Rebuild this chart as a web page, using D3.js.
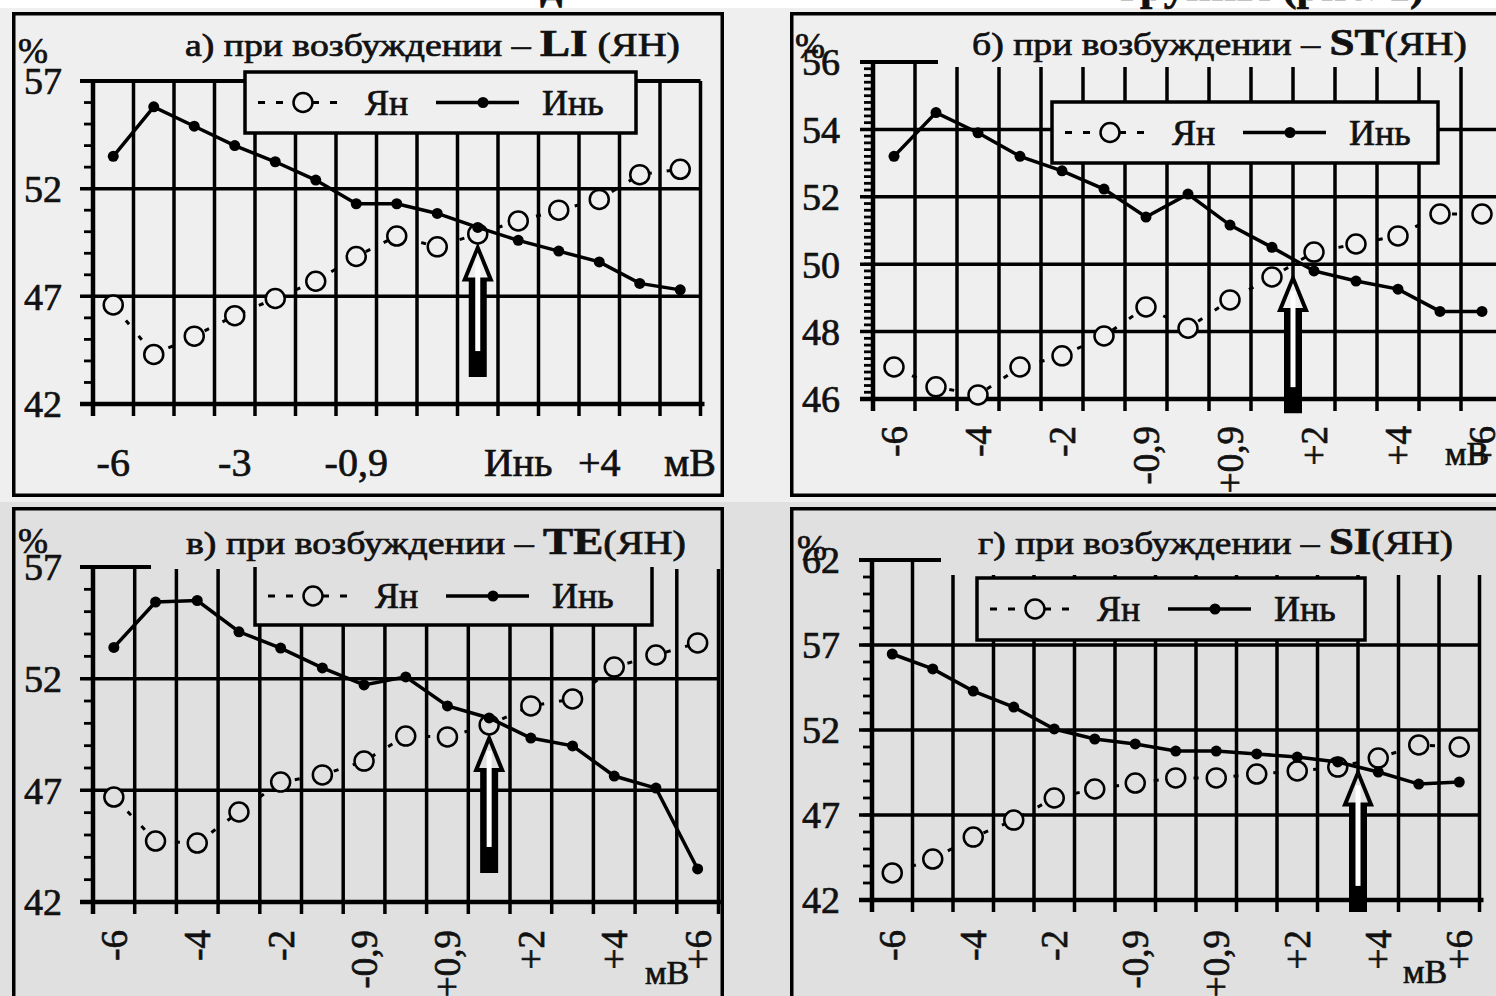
<!DOCTYPE html>
<html>
<head>
<meta charset="utf-8">
<script src="https://cdn.jsdelivr.net/npm/d3@7"></script>
<style>
  body { margin: 0; background: #fff; }
  svg { display: block; }
  text { font-family: "Liberation Serif", "Times New Roman", serif; fill: #111; stroke: #111; stroke-width: 0.7px; }
</style>
</head>
<body>
<script>
// ---- data ----
// 15 steps along the mV axis; only some of them carry a label
const ticksA = ["-6", "", "", "-3", "", "", "-0,9", "", "", "", "Инь", "", "+4", "", ""];
const ticksMV = ["-6", "", "-4", "", "-2", "", "-0,9", "", "+0,9", "", "+2", "", "+4", "", "+6"];

// а) LI
const yanA = [46.6, 44.3, 45.15, 46.1, 46.9, 47.7, 48.85, 49.8, 49.3, 49.9, 50.5, 51.0, 51.5, 52.65, 52.9];
const yinA = [53.5, 55.8, 54.9, 54.0, 53.25, 52.4, 51.3, 51.3, 50.85, 50.2, 49.6, 49.1, 48.6, 47.6, 47.3];
// б) ST
const yanB = [46.95, 46.36, 46.12, 46.95, 47.28, 47.87, 48.73, 48.1, 48.94, 49.62, 50.36, 50.6, 50.84, 51.49, 51.49];
const yinB = [53.2, 54.5, 53.9, 53.2, 52.77, 52.23, 51.4, 52.08, 51.16, 50.5, 49.8, 49.5, 49.26, 48.6, 48.6];
// в) TE
const yanC = [46.7, 44.73, 44.64, 46.03, 47.37, 47.69, 48.31, 49.43, 49.39, 49.93, 50.78, 51.09, 52.52, 53.06, 53.6];
const yinC = [53.4, 55.43, 55.5, 54.1, 53.37, 52.48, 51.72, 52.08, 50.78, 50.24, 49.34, 48.99, 47.64, 47.1, 43.48];
// г) SI
const yanD = [43.59, 44.41, 45.7, 46.7, 48.0, 48.53, 48.88, 49.18, 49.18, 49.41, 49.59, 49.82, 50.35, 51.12, 51.0];
const yinD = [56.47, 55.59, 54.29, 53.35, 52.06, 51.47, 51.18, 50.76, 50.76, 50.59, 50.41, 50.12, 49.53, 48.82, 48.94];

// y axis ranges and labelled values
const yRangeA = [42, 57], yTicksA = [42, 47, 52, 57];
const yRangeB = [46, 56], yTicksB = [46, 48, 50, 52, 54, 56];
const yRangeC = [42, 57], yTicksC = [42, 47, 52, 57];
const yRangeD = [42, 62], yTicksD = [42, 47, 52, 57, 62];

// arrows: position on the step axis, tip value, tail value
const arrowA = [9, 49.5, 43.25];
const arrowB = [9.5, 49.74, 45.58];
const arrowC = [9, 49.57, 43.3];
const arrowD = [11.5, 49.8, 41.3];

const titleHead = ["а) при возбуждении – ", "б) при возбуждении – ", "в) при возбуждении – ", "г) при возбуждении – "];
const titleCode = ["LI", "ST", "TE", "SI"];
const titleTail = [" (ЯН)", "(ЯН)", "(ЯН)", "(ЯН)"];
const legendNames = ["Ян", "Инь"];

// ---- layout ----
const W = 1496, H = 996;
const svg = d3.select("body").append("svg").attr("width", W).attr("height", H);

svg.append("rect").attr("x", 0).attr("y", 8).attr("width", W).attr("height", 494).attr("fill", "#efefef");
svg.append("rect").attr("x", 0).attr("y", 502).attr("width", W).attr("height", 494).attr("fill", "#e0e0e0");

// cut off heading line above the panels
svg.append("text").attr("x", 540).attr("y", 0).attr("font-size", 44).attr("font-weight", "bold").text("д");
svg.append("text").attr("x", 1120).attr("y", 0).attr("font-size", 44).attr("font-weight", "bold").text("группы (рис. 1)");

const panels = [
  { yan: yanA, yin: yinA, range: yRangeA, ticks: yTicksA, labels: ticksA, arrow: arrowA, i: 0,
    bg: "#efefef", frame: [12, 12, 712, 485], x0: 93, step: 40.5, yBot: 404, yTop: 81, minor: 1,
    topFull: true, flatLabels: true, labY: 476, mv: [690, 476, 40],
    legend: [245, 72, 391, 61], title: [185, 56, 495], pct: [18, 63], yLabX: 62 },
  { yan: yanB, yin: yinB, range: yRangeB, ticks: yTicksB, labels: ticksMV, arrow: arrowB, i: 1,
    bg: "#efefef", frame: [790, 12, 740, 485], x0: 873, step: 42, yBot: 399, yTop: 62, minor: 0.2,
    stub: 65, gap: 5, labOff: 27, mv: [1467, 465, 34],
    legend: [1052, 102, 386, 61], title: [972, 55, 495], pct: [795, 58], yLabX: 840 },
  { yan: yanC, yin: yinC, range: yRangeC, ticks: yTicksC, labels: ticksMV, arrow: arrowC, i: 2,
    bg: "#e0e0e0", frame: [12, 507, 712, 520], x0: 93, step: 41.7, yBot: 902, yTop: 567, minor: 1,
    stub: 58, gap: 2, labOff: 28, mv: [667, 984, 34],
    legend: [255, 567, 397, 58], legendNoTop: true, title: [186, 554, 500], pct: [18, 553], yLabX: 62 },
  { yan: yanD, yin: yinD, range: yRangeD, ticks: yTicksD, labels: ticksMV, arrow: arrowD, i: 3,
    bg: "#e0e0e0", frame: [790, 507, 740, 520], x0: 872, step: 40.5, yBot: 900, yTop: 560, minor: 1,
    stub: 69, gap: 15, labOff: 30, mv: [1425, 983, 34],
    legend: [977, 578, 388, 62], title: [978, 554, 475], pct: [797, 560], yLabX: 840 }
];

panels.forEach(drawPanel);

function drawPanel(p) {
  const [fx, fy, fw, fh] = p.frame;
  const clipId = "clip" + p.i;
  svg.append("clipPath").attr("id", clipId)
    .append("rect").attr("x", fx).attr("y", fy).attr("width", fw).attr("height", fh);
  const g = svg.append("g").attr("clip-path", "url(#" + clipId + ")");

  const x = d3.scaleLinear().domain([0, 15]).range([p.x0, p.x0 + 15 * p.step]);
  const y = d3.scaleLinear().domain(p.range).range([p.yBot, p.yTop]);
  const xr = x(15);
  const [y0, y1] = p.range;

  // horizontal grid
  const inner = p.ticks.filter(v => v > y0 && v < y1);
  g.selectAll(".hgrid").data(inner).enter().append("line")
    .attr("x1", p.x0 - 13).attr("x2", xr).attr("y1", d => y(d)).attr("y2", d => y(d))
    .attr("stroke", "#000").attr("stroke-width", 3.5);

  // vertical grid + ticks under the axis
  g.selectAll(".vgrid").data(d3.range(1, 16)).enter().append("line")
    .attr("x1", d => x(d)).attr("x2", d => x(d))
    .attr("y1", y(y1)).attr("y2", p.yBot + 12)
    .attr("stroke", "#000").attr("stroke-width", 3.5);

  // top line
  g.append("line").attr("x1", p.x0 - 13).attr("x2", p.topFull ? xr : p.x0 + p.stub)
    .attr("y1", y(y1)).attr("y2", y(y1)).attr("stroke", "#000").attr("stroke-width", 4);

  if (!p.topFull) {
    g.append("rect").attr("x", p.x0 + p.stub).attr("y", fy + 3)
      .attr("width", xr - p.x0 - p.stub + 10).attr("height", p.yTop + p.gap - fy - 3)
      .attr("fill", p.bg);
  }

  // axes
  g.append("line").attr("x1", p.x0 - 13).attr("x2", xr + 4)
    .attr("y1", p.yBot).attr("y2", p.yBot).attr("stroke", "#000").attr("stroke-width", 4.5);
  g.append("line").attr("x1", p.x0).attr("x2", p.x0)
    .attr("y1", y(y1) - 2).attr("y2", p.yBot + 12).attr("stroke", "#000").attr("stroke-width", 4.5);

  // minor ticks on the left
  const nMinor = Math.round((y1 - y0) / p.minor);
  g.selectAll(".minor").data(d3.range(0, nMinor + 1)).enter().append("line")
    .attr("x1", p.x0 - 9).attr("x2", p.x0)
    .attr("y1", d => y(y0 + d * p.minor)).attr("y2", d => y(y0 + d * p.minor))
    .attr("stroke", "#000").attr("stroke-width", 2.8);

  // y labels
  g.selectAll(".ylab").data(p.ticks).enter().append("text")
    .attr("x", p.yLabX).attr("y", d => y(d)).attr("dy", "0.35em")
    .attr("text-anchor", "end").attr("font-size", 38).text(d => d);

  // x labels
  if (p.flatLabels) {
    g.selectAll(".xlab").data(p.labels).enter().append("text")
      .attr("x", (d, i) => x(i + 0.5)).attr("y", p.labY)
      .attr("text-anchor", "middle").attr("font-size", 40).text(d => d);
  } else {
    g.selectAll(".xlab").data(p.labels).enter().append("text")
      .attr("transform", (d, i) => "translate(" + x(i + 0.5) + "," + (p.yBot + p.labOff) + ") rotate(-90)")
      .attr("dy", "0.35em").attr("text-anchor", "end").attr("font-size", 37).text(d => d);
  }
  g.append("text").attr("x", p.mv[0]).attr("y", p.mv[1]).attr("text-anchor", "middle")
    .attr("font-size", p.mv[2]).text("мВ");

  // series
  const line = d3.line().x((d, i) => x(i + 0.5)).y(d => y(d));
  g.append("path").datum(p.yan).attr("d", line).attr("fill", "none")
    .attr("stroke", "#000").attr("stroke-width", 3).attr("stroke-dasharray", "5,15");
  g.selectAll(".yan").data(p.yan).enter().append("circle")
    .attr("cx", (d, i) => x(i + 0.5)).attr("cy", d => y(d)).attr("r", 9.5)
    .attr("fill", p.bg).attr("stroke", "#000").attr("stroke-width", 2.5);
  g.append("path").datum(p.yin).attr("d", line).attr("fill", "none")
    .attr("stroke", "#000").attr("stroke-width", 3.5);
  g.selectAll(".yin").data(p.yin).enter().append("circle")
    .attr("cx", (d, i) => x(i + 0.5)).attr("cy", d => y(d)).attr("r", 5.5).attr("fill", "#000");

  // arrow
  const ax = x(p.arrow[0] + 0.5), at = y(p.arrow[1]), ab = y(p.arrow[2]);
  g.append("path").attr("fill", "#000").attr("d",
    "M" + ax + "," + at + " L" + (ax + 16) + "," + (at + 39) + " L" + (ax + 9) + "," + (at + 39) +
    " L" + (ax + 9) + "," + ab + " L" + (ax - 9) + "," + ab + " L" + (ax - 9) + "," + (at + 39) +
    " L" + (ax - 16) + "," + (at + 39) + "Z");
  g.append("path").attr("fill", p.bg).attr("d",
    "M" + ax + "," + (at + 10) + " L" + (ax + 10) + "," + (at + 35) + " L" + (ax - 10) + "," + (at + 35) + "Z");
  g.append("rect").attr("x", ax - 2.5).attr("y", at + 18).attr("width", 5)
    .attr("height", Math.max(0, ab - at - 44)).attr("fill", "#fff");

  // legend
  const [lx, ly, lw, lh] = p.legend;
  const cy = ly + lh / 2;
  g.append("rect").attr("x", lx).attr("y", ly).attr("width", lw).attr("height", lh)
    .attr("fill", p.bg).attr("stroke", p.legendNoTop ? "none" : "#000").attr("stroke-width", 3.5);
  if (p.legendNoTop) {
    g.append("path").attr("fill", "none").attr("stroke", "#000").attr("stroke-width", 3.5)
      .attr("d", "M" + lx + "," + ly + " V" + (ly + lh) + " H" + (lx + lw) + " V" + ly);
  }
  g.append("line").attr("x1", lx + 13).attr("x2", lx + 101).attr("y1", cy).attr("y2", cy)
    .attr("stroke", "#000").attr("stroke-width", 3).attr("stroke-dasharray", "7,11");
  g.append("circle").attr("cx", lx + 58).attr("cy", cy).attr("r", 9.5)
    .attr("fill", p.bg).attr("stroke", "#000").attr("stroke-width", 2.5);
  g.append("text").attr("x", lx + 120).attr("y", cy + 12).attr("font-size", 36).text(legendNames[0]);
  g.append("line").attr("x1", lx + 191).attr("x2", lx + 274).attr("y1", cy).attr("y2", cy)
    .attr("stroke", "#000").attr("stroke-width", 3.5);
  g.append("circle").attr("cx", lx + 238).attr("cy", cy).attr("r", 5.5).attr("fill", "#000");
  g.append("text").attr("x", lx + 297).attr("y", cy + 12).attr("font-size", 36).text(legendNames[1]);

  // title and % sign
  const t = g.append("text").attr("x", p.title[0]).attr("y", p.title[1])
    .attr("textLength", p.title[2]).attr("lengthAdjust", "spacingAndGlyphs");
  t.append("tspan").attr("font-size", 31).text(titleHead[p.i]);
  t.append("tspan").attr("font-size", 37).attr("font-weight", "bold").text(titleCode[p.i]);
  t.append("tspan").attr("font-size", 33).text(titleTail[p.i]);
  g.append("text").attr("x", p.pct[0]).attr("y", p.pct[1]).attr("font-size", 36).text("%");

  // frame
  g.append("rect").attr("x", fx).attr("y", fy).attr("width", fw).attr("height", fh)
    .attr("fill", "none").attr("stroke", "#000").attr("stroke-width", 7);
}
</script>
</body>
</html>
